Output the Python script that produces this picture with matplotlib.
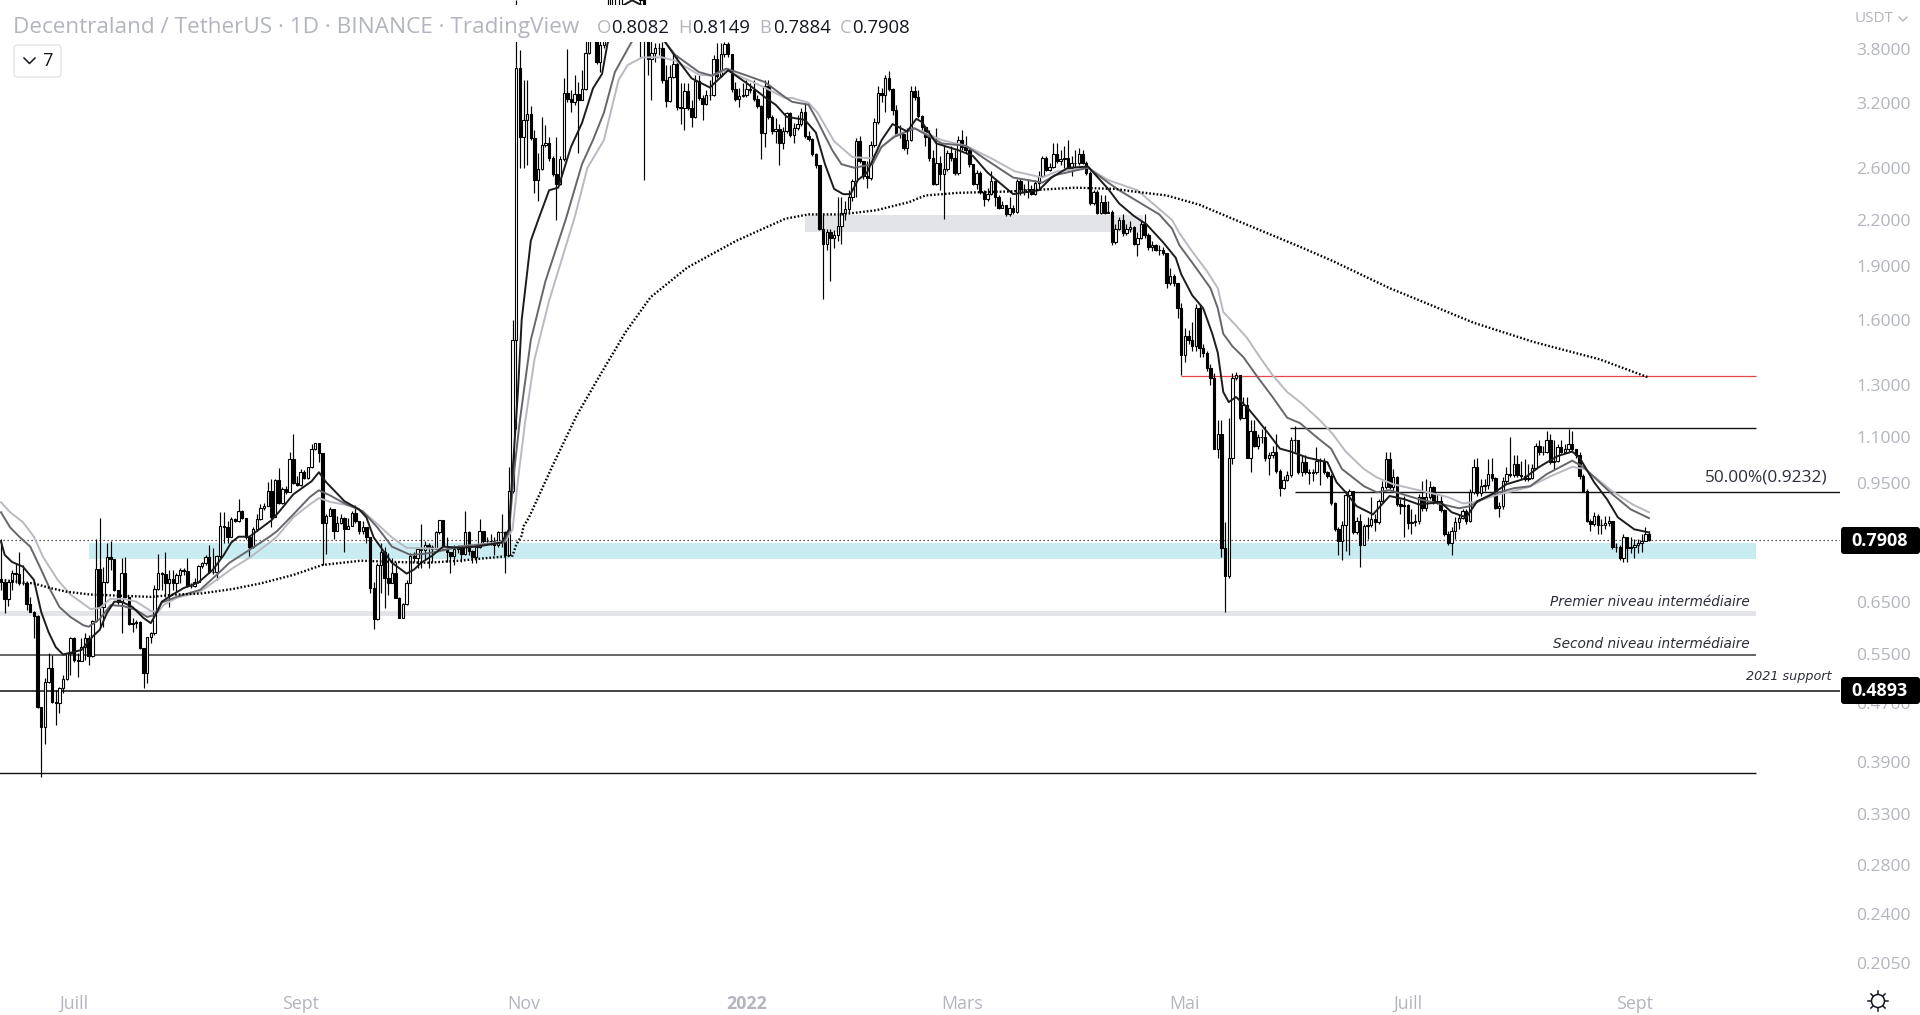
import numpy as np
import matplotlib
matplotlib.use("Agg")
import matplotlib.pyplot as plt
import matplotlib.dates as mdates
from matplotlib.patches import Rectangle, FancyBboxPatch, Circle
from matplotlib.lines import Line2D
from matplotlib.transforms import Affine2D
from matplotlib.ticker import NullLocator, NullFormatter, FixedLocator, FixedFormatter
from datetime import date

FONT = "Open Sans"
plt.rcParams["font.family"] = FONT

start_date = date(2021, 6, 11)
first_open = 0.699
closes = [
 .693,.656,.693,.713,.711,.691,.689,.646,.629,.621,
 .465,.435,.503,.526,.472,.470,.493,.508,.552,.579,
 .540,.538,.562,.579,.547,.611,.722,.639,.693,.750,
 .745,.675,.650,.713,.660,.605,.607,.609,.561,.518,
 .581,.588,.677,.713,.711,.691,.699,.691,.708,.720,
 .718,.683,.683,.693,.729,.736,.750,.715,.715,.753,
 .827,.824,.800,.846,.841,.868,.849,.800,.775,.821,
 .846,.876,.882,.925,.851,.958,.890,.931,.922,1.025,
 .949,.943,.983,.964,1.00,1.06,1.08,1.045,.835,.854,
 .873,.816,.835,.849,.821,.827,.862,.841,.816,.824,
 .800,.679,.615,.731,.762,.701,.691,.713,.658,.617,
 .646,.691,.753,.748,.770,.767,.780,.775,.770,.811,
 .843,.770,.762,.753,.770,.775,.757,.811,.765,.750,
 .775,.816,.788,.788,.790,.780,.811,.811,.755,.925,
 1.50,3.58,2.87,3.03,3.09,2.86,2.50,2.59,2.80,2.81,
 2.68,2.55,2.47,2.67,3.30,3.24,3.21,3.29,3.23,3.34,
 3.75,4.03,4.16,3.64,3.85,4.03,4.33,4.74,4.89,4.81,
 4.59,5.21,5.05,4.89,4.81,4.44,4.03,3.68,3.75,3.81,
 3.81,3.44,3.22,3.47,3.62,3.16,3.15,3.32,3.15,3.06,
 3.43,3.25,3.19,3.28,3.28,3.68,3.49,3.74,3.86,3.74,
 3.34,3.24,3.27,3.28,3.34,3.33,3.24,3.17,2.91,3.38,
 3.06,2.92,2.94,2.81,2.92,3.10,2.89,2.95,2.99,3.11,
 2.88,2.85,2.72,2.62,2.14,2.04,2.12,2.08,2.10,2.16,
 2.25,2.28,2.37,2.49,2.83,2.66,2.53,2.52,2.80,3.01,
 3.30,3.28,3.46,3.34,3.13,2.90,2.90,2.77,2.84,3.32,
 3.26,3.07,2.96,2.87,2.68,2.47,2.64,2.55,2.59,2.73,
 2.68,2.56,2.84,2.78,2.75,2.63,2.47,2.56,2.41,2.35,
 2.39,2.49,2.37,2.29,2.31,2.24,2.29,2.26,2.49,2.43,
 2.43,2.43,2.39,2.48,2.53,2.68,2.58,2.61,2.72,2.66,
 2.67,2.68,2.60,2.64,2.64,2.72,2.64,2.56,2.32,2.41,
 2.25,2.33,2.25,2.26,2.05,2.14,2.20,2.11,2.14,2.15,
 2.04,2.08,2.17,2.10,2.02,2.03,2.00,2.00,1.98,1.80,
 1.84,1.80,1.66,1.43,1.52,1.50,1.47,1.66,1.46,1.44,
 1.37,1.33,1.06,1.11,.772,.706,1.03,1.33,1.34,1.17,
 1.22,1.03,1.12,1.07,1.10,1.10,1.03,1.04,1.05,.987,
 .934,.958,.974,1.09,1.09,.983,1.015,.983,.980,.983,
 1.02,1.02,.983,.970,.890,.819,.788,.830,.913,.925,
 .811,.841,.780,.827,.830,.846,.838,.896,.937,1.025,
 .937,.967,.887,.882,.885,.835,.838,.841,.908,.876,
 .908,.937,.893,.896,.870,.808,.785,.814,.838,.849,
 .868,.841,.922,1.00,.919,.940,.943,.977,.964,.876,
 .882,.955,.977,.974,1.01,.974,.970,.961,.964,.996,
 1.07,1.05,1.05,1.09,1.015,1.02,1.065,1.05,1.06,1.075,
 1.06,1.04,.970,.925,.841,.833,.854,.830,.830,.835,
 .841,.775,.775,.748,.798,.772,.775,.778,.783,.790,
 .808,.7908,
]
highs = [
 .793,.697,.695,.720,.736,.762,.731,.693,.660,.631,
 .623,.465,.510,.552,.549,.490,.495,.514,.552,.581,
 .581,.552,.579,.588,.585,.613,.793,.849,.727,.785,
 .788,.745,.675,.748,.750,.660,.617,.613,.611,.561,
 .581,.590,.686,.757,.715,.762,.720,.720,.713,.724,
 .724,.748,.691,.701,.731,.738,.755,.780,.772,.755,
 .865,.865,.841,.851,.849,.902,.870,.849,.800,.824,
 .859,.887,.890,.952,.961,.961,.996,.937,.940,1.05,
 1.11,.970,.993,.990,1.00,1.075,1.08,1.08,1.045,.859,
 .879,.873,.854,.859,.851,.849,.868,.885,.841,.841,
 .824,.800,.693,.736,.785,.775,.760,.748,.738,.660,
 .648,.697,.760,.762,.775,.833,.788,.785,.780,.814,
 .843,.843,.798,.762,.780,.780,.780,.868,.814,.767,
 .780,.846,.816,.798,.806,.798,.814,.859,.816,1.00,
 1.60,4.44,3.79,3.44,3.44,3.17,2.93,2.73,3.06,2.98,
 2.87,2.70,2.87,2.70,3.46,3.80,3.33,3.50,3.42,3.55,
 3.91,4.23,4.37,4.30,4.10,4.23,4.59,5.05,5.38,5.21,
 5.05,6.31,5.92,5.54,5.38,5.05,4.59,4.10,4.03,3.87,
 3.87,3.88,3.61,3.61,3.75,3.73,3.41,3.41,3.41,3.23,
 3.50,3.50,3.28,3.33,3.44,3.73,3.87,3.87,3.88,3.88,
 3.74,3.42,3.35,3.41,3.44,3.41,3.44,3.28,3.18,3.44,
 3.44,3.08,3.05,2.99,2.96,3.11,3.11,3.00,3.08,3.15,
 3.20,2.92,2.86,2.73,2.62,2.25,2.14,2.14,2.13,2.37,
 2.37,2.34,2.42,2.51,2.86,2.88,2.66,2.66,2.83,3.05,
 3.38,3.36,3.50,3.54,3.35,3.18,2.98,2.90,2.95,3.38,
 3.38,3.33,3.08,2.96,2.93,2.75,2.95,2.70,2.79,2.75,
 2.79,2.75,2.88,2.93,2.88,2.77,2.63,2.58,2.57,2.42,
 2.44,2.57,2.50,2.38,2.34,2.31,2.37,2.31,2.51,2.51,
 2.47,2.51,2.46,2.50,2.57,2.70,2.70,2.64,2.81,2.81,
 2.75,2.79,2.84,2.70,2.75,2.77,2.75,2.66,2.57,2.42,
 2.42,2.38,2.38,2.34,2.27,2.17,2.22,2.24,2.17,2.19,
 2.16,2.12,2.19,2.24,2.11,2.06,2.04,2.03,2.02,1.98,
 1.89,1.85,1.80,1.69,1.56,1.55,1.59,1.68,1.68,1.48,
 1.45,1.39,1.35,1.16,1.16,.838,1.17,1.35,1.355,1.34,
 1.25,1.25,1.16,1.16,1.11,1.13,1.14,1.05,1.07,1.11,
 .993,.970,.987,1.10,1.14,1.09,1.04,1.04,.993,.993,
 1.065,1.03,1.03,.987,.977,.893,.824,.841,.925,.931,
 .925,.851,.859,.833,.851,.908,.859,.902,.955,1.05,
 1.05,.993,.970,.902,.911,.887,.873,.859,.916,.955,
 .961,.955,.940,.916,.911,.873,.814,.824,.851,.859,
 .873,.873,.931,1.025,1.03,.961,.961,1.025,1.03,.967,
 .893,.967,1.00,1.10,1.04,1.04,1.02,1.025,1.01,1.01,
 1.08,1.09,1.07,1.12,1.11,1.09,1.075,1.09,1.075,1.13,
 1.12,1.06,1.05,.977,.931,.846,.865,.859,.846,.854,
 .854,.841,.785,.778,.806,.800,.800,.793,.793,.806,
 .824,.8149,
]
lows = [
 .675,.627,.641,.675,.691,.686,.686,.633,.629,.579,
 .463,.371,.413,.501,.470,.438,.455,.485,.506,.514,
 .536,.511,.538,.540,.531,.545,.609,.598,.600,.691,
 .720,.673,.646,.588,.658,.603,.590,.598,.559,.493,
 .501,.570,.585,.675,.675,.660,.639,.675,.671,.691,
 .708,.681,.679,.681,.691,.724,.731,.713,.711,.697,
 .748,.785,.785,.798,.838,.838,.846,.795,.750,.772,
 .816,.843,.870,.882,.824,.851,.887,.887,.916,.922,
 .946,.940,.940,.961,.961,.996,1.055,1.015,.731,.757,
 .854,.793,.814,.833,.762,.819,.841,.835,.806,.806,
 .785,.669,.596,.613,.669,.637,.665,.691,.658,.617,
 .617,.643,.689,.738,.724,.724,.743,.724,.738,.772,
 .808,.767,.738,.713,.731,.760,.738,.755,.755,.736,
 .736,.772,.785,.780,.780,.755,.775,.775,.713,.753,
 .919,1.13,2.60,2.60,2.62,2.84,2.40,2.34,2.58,2.78,
 2.66,2.53,2.20,2.46,2.66,3.21,3.11,3.18,2.73,3.23,
 3.33,3.74,3.91,3.62,3.53,3.81,3.97,4.28,4.37,4.37,
 4.37,4.59,4.59,4.52,4.52,3.69,2.50,3.50,3.23,3.64,
 3.73,3.41,3.16,3.21,3.46,3.13,2.99,2.93,3.13,2.96,
 3.05,3.23,3.03,3.18,3.23,3.27,3.46,3.47,3.71,3.71,
 3.31,3.22,3.16,3.26,3.26,3.30,3.22,3.15,2.67,2.78,
 3.04,2.90,2.81,2.62,2.76,2.91,2.87,2.81,2.93,2.97,
 2.86,2.83,2.70,2.60,2.13,1.71,2.00,1.81,2.01,2.06,
 2.04,2.20,2.25,2.34,2.37,2.64,2.51,2.44,2.50,2.78,
 2.99,3.21,3.11,3.32,3.08,2.88,2.86,2.75,2.72,2.83,
 3.23,3.05,2.93,2.79,2.66,2.46,2.46,2.42,2.21,2.57,
 2.66,2.54,2.54,2.75,2.73,2.61,2.46,2.43,2.39,2.30,
 2.34,2.38,2.30,2.28,2.29,2.23,2.23,2.24,2.25,2.38,
 2.38,2.36,2.38,2.38,2.42,2.53,2.57,2.57,2.60,2.64,
 2.62,2.60,2.58,2.53,2.61,2.62,2.63,2.54,2.31,2.31,
 2.24,2.24,2.24,2.25,2.03,2.04,2.13,2.09,2.10,2.12,
 2.03,1.96,2.07,2.08,2.00,1.99,1.99,1.97,1.97,1.77,
 1.79,1.78,1.61,1.34,1.40,1.48,1.45,1.45,1.42,1.42,
 1.36,1.30,1.06,1.03,.750,.629,.701,1.01,1.32,1.16,
 1.17,1.03,.983,1.065,1.06,1.08,1.02,.974,1.03,.980,
 .911,.931,.955,.967,1.05,.977,.970,.977,.946,.955,
 .977,.943,.977,.964,.885,.814,.755,.743,.765,.755,
 .806,.806,.727,.778,.793,.824,.816,.833,.893,.931,
 .931,.925,.882,.859,.800,.819,.806,.827,.833,.868,
 .868,.902,.887,.887,.865,.803,.780,.755,.793,.819,
 .846,.833,.838,.916,.911,.911,.925,.931,.955,.873,
 .851,.873,.949,.967,.967,.967,.961,.955,.955,.961,
 .993,1.04,1.04,1.045,1.01,.993,1.015,1.045,1.05,1.05,
 1.05,1.03,.961,.922,.838,.814,.827,.806,.806,.819,
 .827,.770,.762,.743,.738,.738,.760,.748,.760,.762,
 .788,.7884,
]

ema_fast_days = [0,1,3,6,9,11,13,15,17,22,25,27,29,31,33,36,39,41,43,44,47,50,54,58,61,63,65,68,70,74,76,80,85,87,89,94,98,100,102,107,111,113,115,118,121,126,130,137,139,140,141.5,142.5,145,147,150,152.5,156,159,162,164.5,166,170,172.7,175,182,185,189,194,199,204,210,212,215,220,223,225.5,228,230.5,232.5,234.5,237,241,244,248,250.5,252,256,262,266,270,277,284,287.5,292,297.5,303,306,310,313.5,318,321.5,323,326,329,331.5,333,334.5,336,338,341,344,347,350,353,357.5,363,365.5,368,371,375.5,377.5,380,384,388,394,397,401,404,408,412,416.5,421,426,430,432,436,439.5,442.5,447,451]
ema_fast = [.788,.755,.738,.727,.697,.629,.590,.562,.549,.557,.581,.594,.627,.650,.650,.639,.617,.607,.633,.650,.665,.679,.691,.720,.755,.785,.800,.800,.814,.843,.865,.916,.955,.983,.952,.896,.873,.851,.798,.736,.711,.720,.736,.753,.775,.772,.775,.785,.819,.983,1.28,1.60,2.06,2.20,2.42,2.44,2.78,3.00,3.35,3.51,3.87,4.36,4.44,4.38,3.87,3.68,3.46,3.36,3.55,3.41,3.23,3.18,3.06,3.03,2.91,2.63,2.43,2.39,2.39,2.50,2.56,2.84,2.99,2.92,3.04,3.01,2.81,2.75,2.70,2.56,2.39,2.42,2.52,2.60,2.61,2.43,2.32,2.23,2.17,2.05,1.95,1.85,1.73,1.66,1.53,1.44,1.27,1.23,1.25,1.21,1.16,1.11,1.06,1.05,1.03,1.015,.952,.922,.882,.859,.882,.911,.902,.887,.893,.865,.851,.896,.916,.946,.961,1.00,1.035,1.05,1.03,.952,.902,.851,.819,.811]

ema_mid_days = [0,2.5,5,8,11,13.5,16,19,22.5,24,27,30,33.5,37,40,42,44,48,54.5,59,62.5,68,73.5,75.5,80,84.5,87,90,94.5,99,103,107,112,115.5,119,125.5,137.5,139,140.5,142,145,149,154.5,159,162,165,168,172.5,176.5,182,184.5,191,194.5,198.5,203.5,209,214.5,216.5,221,223,227.5,230,233.5,238.5,241,244.5,250,257.5,264,270,277,285,288.5,297.5,303,306,312,317,320.5,322.5,327,331,333,334.5,337,340,344,348,352,355.5,360,364,367,373,376.5,380,388,394.5,399,402,408,414,418.5,423,430,433,441,446,451]
ema_mid = [.865,.824,.800,.775,.720,.675,.639,.619,.603,.600,.615,.643,.641,.633,.619,.623,.648,.660,.675,.708,.736,.767,.800,.814,.859,.908,.928,.913,.887,.868,.824,.775,.755,.757,.762,.775,.785,.811,.993,1.16,1.50,1.81,2.20,2.63,2.84,3.10,3.53,3.88,4.10,3.87,3.73,3.53,3.49,3.57,3.50,3.42,3.26,3.21,3.18,3.05,2.75,2.63,2.60,2.63,2.78,2.87,2.95,2.81,2.79,2.66,2.52,2.48,2.54,2.60,2.48,2.42,2.32,2.24,2.14,2.03,1.89,1.77,1.66,1.53,1.47,1.42,1.33,1.25,1.17,1.15,1.10,1.06,.993,.940,.922,.928,.902,.887,.876,.882,.916,.934,.940,.977,1.02,1.00,.916,.873,.849]

ema_slow_days = [0,2.5,6,9,11.5,15.5,19,24.5,27,30,33.5,37,41,43,44.5,48,54.5,59,63.5,68,73.5,75.5,80,84.5,87,90.5,96.5,100,103,107,111,119.5,125.5,138,140,141.5,143.5,146,150,157,160.5,165,169,171.5,175.5,181,184.5,191,194.5,198.5,203.5,209,214.5,216.5,221,223.5,228,233,238.5,241,244.5,250,257.5,264,271,277.5,285,289,297.5,303,311,316.5,320.5,322.5,326,330,333,334.5,338,341,344.5,348,352,355.5,361,364.5,368,373,376.5,381,388,396,400,403,410,418,424,430,433.5,441,446.5,451]
ema_slow = [.893,.865,.838,.800,.750,.697,.665,.635,.637,.656,.656,.650,.631,.629,.643,.658,.671,.697,.724,.748,.785,.800,.851,.887,.905,.893,.882,.859,.833,.798,.772,.770,.775,.788,.819,.961,1.16,1.41,1.70,2.22,2.60,2.84,3.44,3.61,3.70,3.70,3.66,3.50,3.49,3.55,3.46,3.36,3.25,3.25,3.20,3.10,2.83,2.69,2.68,2.78,2.88,2.95,2.84,2.79,2.68,2.57,2.52,2.57,2.60,2.50,2.42,2.29,2.20,2.11,1.99,1.87,1.77,1.64,1.57,1.51,1.42,1.34,1.27,1.23,1.16,1.11,1.05,.993,.967,.946,.928,.908,.890,.893,.916,.937,.970,1.00,.993,.925,.887,.865]

ema_long_days = [0,9,13.5,18,24.5,41,48,54.5,63.5,71,80,88,98.5,107.5,116.5,125.5,140,141,142.5,143,144.5,151,157.6,164.3,171,177.8,187.8,201.3,214.7,221,230,239.5,248.5,253,262,275.5,294,305,310,319,328,337,346.5,355.5,364.5,374,380,386,403,419.5,437.5,451]
ema_long = [.697,.689,.679,.671,.665,.660,.665,.667,.677,.689,.708,.731,.741,.738,.736,.741,.753,.780,.803,.827,.851,1.005,1.18,1.35,1.54,1.72,1.89,2.06,2.21,2.24,2.24,2.27,2.33,2.38,2.40,2.41,2.44,2.43,2.41,2.38,2.31,2.21,2.11,2.02,1.93,1.83,1.77,1.72,1.585,1.49,1.41,1.33]

price_ticks = [3.8,3.2,2.6,2.2,1.9,1.6,1.3,1.1,.95,.65,.55,.47,.39,.33,.28,.24,.205]
month_labels = ["Juill","Sept","Nov","2022","Mars","Mai","Juill","Sept"]
month_dates = [date(2021,7,1),date(2021,9,1),date(2021,11,1),date(2022,1,1),date(2022,3,1),date(2022,5,1),date(2022,7,1),date(2022,9,1)]

last_price = 0.7908
support_price = 0.4893
fib_price = 0.9232
second_level = 0.548
low_level = 0.376
red_level = 1.337
high_level = 1.132
blue_band = (0.7447, 0.7845)
grey_band_low = (0.621, 0.6307)
grey_band_high = (2.117, 2.235)

W, H = 1920, 1015
PANE_W, PANE_H = 1840, 985
PITCH = 3.654
K = 313.0
GREY = "#b2b5be"

fig = plt.figure(figsize=(W/100, H/100), dpi=100, facecolor="white")
ax = fig.add_axes([0, 1-PANE_H/H, PANE_W/W, PANE_H/H], facecolor="white")
px = Affine2D().scale(1/W, -1/H).translate(0, 1) + fig.transFigure

d0 = mdates.date2num(start_date)
days = lambda a: d0 + np.asarray(a, dtype=float)
opens = np.array([first_open] + closes[:-1])
C = np.array(closes); Hi = np.array(highs); Lo = np.array(lows)
n = min(len(C), len(Hi), len(Lo))
C, Hi, Lo, opens = C[:n], Hi[:n], Lo[:n], opens[:n]
Hi = np.maximum(Hi, np.maximum(opens, C)); Lo = np.minimum(Lo, np.minimum(opens, C))
X = days(np.arange(n))

ax.set_yscale("log")
ax.set_ylim(3.8*np.exp(-(PANE_H-49)/K), 3.8*np.exp(49/K))
ax.set_xlim(d0 - 1/PITCH, d0 + (PANE_W-1)/PITCH)

xl = lambda a, b: (days(a), days(b))
ax.fill_between(days([24, 480.3]), *blue_band, color="#c8ecf2", lw=0, zorder=1)
ax.fill_between(days([-2, 480.3]), *grey_band_low, color="#e3e4e7", lw=0, zorder=1)
ax.fill_between(days([220, 312.5]), *grey_band_high, color="#e3e4e7", lw=0, zorder=1)

ax.hlines(low_level, *xl(-2, 480.3), color="#111111", lw=1.0, zorder=2)
ax.hlines(second_level, *xl(-2, 480.3), color="#666666", lw=1.4, zorder=2)
ax.hlines(support_price, *xl(-2, 505), color="#111111", lw=1.1, zorder=2)
ax.hlines(red_level, *xl(323, 480.3), color="#e64545", lw=0.9, zorder=2)
ax.hlines(high_level, *xl(352.8, 480.3), color="#111111", lw=1.0, zorder=2)
ax.hlines(fib_price, *xl(354, 505), color="#111111", lw=1.0, zorder=2)
ax.hlines(last_price, *xl(-2, 505), color="#222222", lw=0.9, linestyles=[(0, (1, 2.2))], zorder=2)

ax.vlines(X, Lo, Hi, color="black", lw=0.85, zorder=3)
up = C >= opens
ax.bar(X[up], (C-opens)[up], bottom=opens[up], width=0.66, facecolor="white", edgecolor="black", lw=0.8, zorder=4)
ax.bar(X[~up], (opens-C)[~up], bottom=C[~up], width=0.66, facecolor="black", edgecolor="black", lw=0.8, zorder=4)

ax.plot(days(ema_slow_days), ema_slow, color="#b9b9c1", lw=1.4, zorder=5)
ax.plot(days(ema_mid_days), ema_mid, color="#66666d", lw=1.4, zorder=6)
ax.plot(days(ema_fast_days), ema_fast, color="#1c1c1c", lw=1.4, zorder=7)
ax.plot(days(ema_long_days), ema_long, color="black", lw=1.7, ls=(0, (0.7, 0.85)), zorder=7)

for s in ax.spines.values():
    s.set_visible(False)
ax.yaxis.tick_right()
ax.yaxis.set_major_locator(FixedLocator(price_ticks))
ax.yaxis.set_major_formatter(FixedFormatter([f"{p:.4f}" for p in price_ticks]))
ax.yaxis.set_minor_locator(NullLocator())
ax.yaxis.set_minor_formatter(NullFormatter())
ax.tick_params(axis="y", length=0, pad=11.5, labelsize=12.6, labelcolor=GREY)
ax.xaxis.set_major_locator(FixedLocator([mdates.date2num(d) for d in month_dates]))
ax.xaxis.set_major_formatter(FixedFormatter(month_labels))
ax.tick_params(axis="x", length=0, pad=7, labelsize=12.8, labelcolor=GREY)
for t, lab in zip(ax.get_xticklabels(), month_labels):
    if lab == "2022":
        t.set_fontweight("bold")

# white header strip hiding the candles underneath
ax.add_patch(Rectangle((0, 1-42/PANE_H), 912/PANE_W, 37/PANE_H, transform=ax.transAxes, fc="white", ec="none", zorder=20))

# annotations
it = dict(style="italic", fontsize=9.8, color="#2a2e39", zorder=25, family="DejaVu Sans")
def ptext(x, y, s, **kw):
    return fig.text(x, y, s, transform=px, va="center", **kw)
ptext(1750, 602, "Premier niveau intermédiaire", ha="right", **it)
ptext(1750, 644, "Second niveau intermédiaire", ha="right", **it)
ptext(1831, 677, "2021 support", ha="right", **{**it, "fontsize": 9.2})
ptext(1828, 477, "50.00%(0.9232)", ha="right", fontsize=12.4, color="#2a2e39")

# header
ptext(13, 27, "Decentraland / TetherUS · 1D · BINANCE · TradingView", ha="left", fontsize=16.2, color=GREY)
for lx, l, vx, v in [(597,"O",611,"0.8082"),(678,"H",692,"0.8149"),(759,"B",773,"0.7884"),(840,"C",852,"0.7908")]:
    ptext(lx, 28, l, ha="left", fontsize=13.3, color=GREY)
    ptext(vx, 28, v, ha="left", fontsize=13.3, color="#131722")

fig.add_artist(FancyBboxPatch((14, 45), 47, 32, boxstyle="round,pad=0,rounding_size=4", fc="white", ec="#e0e3eb", lw=1, transform=px))
fig.add_artist(Line2D([24, 29.5, 35], [58, 63.5, 58], color="#131722", lw=1.1, transform=px))
ptext(42, 61, "7", ha="left", fontsize=13, color="#131722")

# price axis extras
ptext(1855, 18, "USDT", ha="left", fontsize=11, color=GREY)
fig.add_artist(Line2D([1899, 1903, 1907], [17, 21, 17], color=GREY, lw=1, transform=px))
for yc, s in [(540.5, "0.7908"), (690.5, "0.4893")]:
    fig.add_artist(FancyBboxPatch((1841, yc-13.5), 79, 27, boxstyle="round,pad=0,rounding_size=3", fc="black", ec="none", transform=px, zorder=10))
    ptext(1880, yc+1, s, ha="center", fontsize=13, color="white", fontweight="bold", zorder=11)

# settings icon
cx, cy = 1878, 1001
fig.add_artist(Circle((cx, cy), 6.5, fc="none", ec="#131722", lw=1.1, transform=px))
for a in np.deg2rad(np.arange(0, 360, 45)):
    fig.add_artist(Line2D([cx+7*np.cos(a), cx+10*np.cos(a)], [cy+7*np.sin(a), cy+10*np.sin(a)], color="#131722", lw=1.1, transform=px))

fig.savefig("out.png", dpi=100, facecolor="white")
